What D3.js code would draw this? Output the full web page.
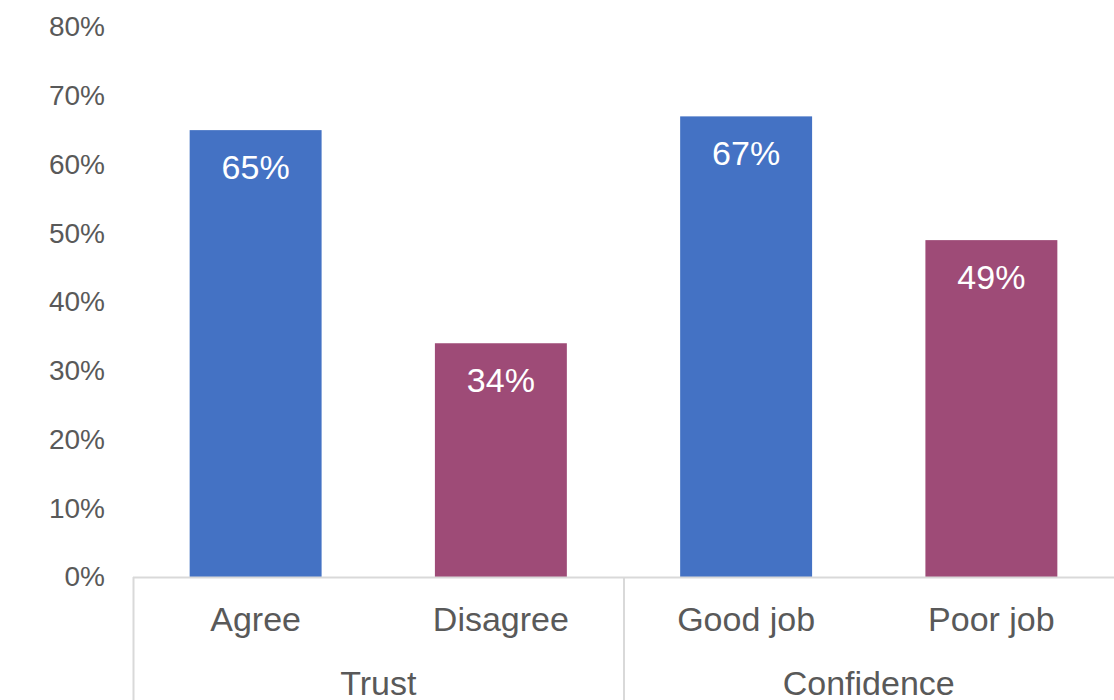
<!DOCTYPE html>
<html>
<head>
<meta charset="utf-8">
<script src="https://cdn.jsdelivr.net/npm/d3@7"></script>
<style>
  body { margin: 0; background: #fff; }
  text { font-family: "Liberation Sans", Arial, sans-serif; }
</style>
</head>
<body>
<div id="chart"></div>
<script>
// chart data
var categories = ["Agree", "Disagree", "Good job", "Poor job"];
var groups     = ["Trust", "Trust", "Confidence", "Confidence"];
var values     = [0.65, 0.34, 0.67, 0.49];
var barColors  = ["#4472C4", "#9E4B77", "#4472C4", "#9E4B77"];
var yTicks     = [0, 0.1, 0.2, 0.3, 0.4, 0.5, 0.6, 0.7, 0.8];

var W = 1114, H = 700,
    plotLeft = 133, plotRight = 1114, plotTop = 27, base = 577;

var svg = d3.select("#chart").append("svg")
    .attr("width", W)
    .attr("height", H);

var x = d3.scaleBand()
    .domain(categories)
    .range([plotLeft, plotRight]);

var y = d3.scaleLinear()
    .domain([0, 0.8])
    .range([base, plotTop]);

var barW = x.bandwidth() * 0.538;

// y axis labels (no line, no ticks)
svg.append("g")
    .attr("transform", "translate(" + (plotLeft - 28) + ",0)")
    .call(d3.axisLeft(y).tickValues(yTicks).tickSize(0).tickPadding(0)
        .tickFormat(d3.format(".0%")))
    .call(function(g) { g.select(".domain").remove(); })
    .selectAll("text")
    .attr("font-size", 28)
    .attr("font-family", "Liberation Sans, Arial, sans-serif")
    .attr("fill", "#595959");

// bars
svg.selectAll("rect.bar")
    .data(values)
    .enter().append("rect")
    .attr("class", "bar")
    .attr("x", function(d, i) { return x(categories[i]) + (x.bandwidth() - barW) / 2; })
    .attr("y", function(d) { return y(d); })
    .attr("width", barW)
    .attr("height", function(d) { return base - y(d); })
    .attr("fill", function(d, i) { return barColors[i]; });

// data labels
svg.selectAll("text.val")
    .data(values)
    .enter().append("text")
    .attr("class", "val")
    .attr("x", function(d, i) { return x(categories[i]) + x.bandwidth() / 2; })
    .attr("y", function(d) { return y(d) + 49; })
    .attr("text-anchor", "middle")
    .attr("font-size", 34)
    .attr("fill", "#fff")
    .text(function(d) { return d3.format(".0%")(d); });

// x axis line and group dividers
var lineColor = "#d9d9d9";
svg.append("line")
    .attr("x1", plotLeft).attr("x2", plotRight)
    .attr("y1", base + 0.5).attr("y2", base + 0.5)
    .attr("stroke", lineColor).attr("stroke-width", 2);

var groupNames = Array.from(new Set(groups));
var groupSpans = groupNames.map(function(g) {
    var cats = categories.filter(function(c, i) { return groups[i] === g; });
    return { name: g, x0: x(cats[0]), x1: x(cats[cats.length - 1]) + x.bandwidth() };
});

svg.selectAll("line.div")
    .data(groupSpans)
    .enter().append("line")
    .attr("class", "div")
    .attr("x1", function(d) { return d.x0 + 0.5; })
    .attr("x2", function(d) { return d.x0 + 0.5; })
    .attr("y1", base).attr("y2", H)
    .attr("stroke", lineColor).attr("stroke-width", 2);

// category labels
svg.selectAll("text.cat")
    .data(categories)
    .enter().append("text")
    .attr("class", "cat")
    .attr("x", function(d) { return x(d) + x.bandwidth() / 2; })
    .attr("y", 631)
    .attr("text-anchor", "middle")
    .attr("font-size", 34)
    .attr("fill", "#595959")
    .text(function(d) { return d; });

// group labels
svg.selectAll("text.grp")
    .data(groupSpans)
    .enter().append("text")
    .attr("class", "grp")
    .attr("x", function(d) { return (d.x0 + d.x1) / 2; })
    .attr("y", 695)
    .attr("text-anchor", "middle")
    .attr("font-size", 34)
    .attr("fill", "#595959")
    .text(function(d) { return d.name; });
</script>
</body>
</html>
